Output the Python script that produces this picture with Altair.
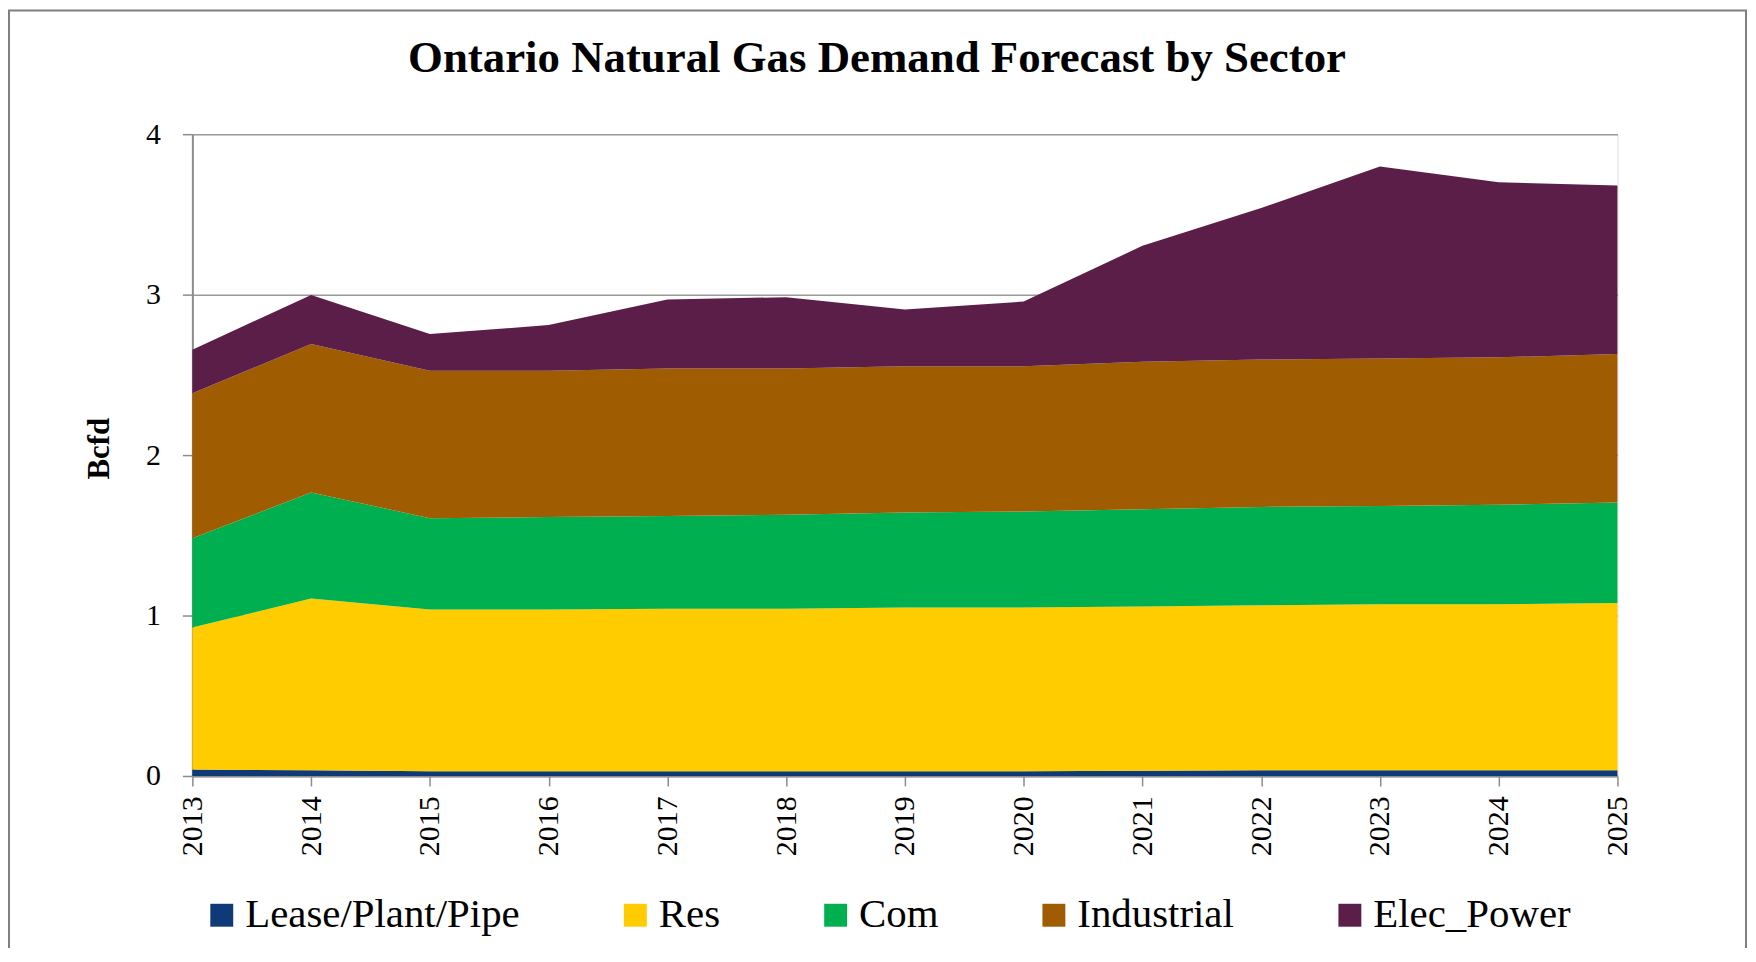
import altair as alt
import pandas as pd

years = list(range(2013, 2026))
series_names = ["Lease/Plant/Pipe", "Res", "Com", "Industrial", "Elec_Power"]
series_colors = ["#0E3A78", "#FFCC00", "#00B050", "#A05C00", "#5B1E49"]

lease = [0.04, 0.035, 0.03, 0.03, 0.03, 0.03, 0.03, 0.03, 0.032, 0.035, 0.035, 0.035, 0.035]
res = [0.885, 1.071, 1.007, 1.007, 1.013, 1.013, 1.02, 1.02, 1.025, 1.029, 1.036, 1.036, 1.043]
com = [0.557, 0.661, 0.570, 0.577, 0.578, 0.585, 0.592, 0.599, 0.606, 0.613, 0.612, 0.619, 0.626]
industrial = [0.904, 0.925, 0.918, 0.911, 0.918, 0.911, 0.911, 0.904, 0.918, 0.918, 0.919, 0.919, 0.926]
elec_power = [0.271, 0.306, 0.230, 0.285, 0.431, 0.445, 0.355, 0.404, 0.723, 0.945, 1.196, 1.091, 1.05]

y_ticks = [0, 1, 2, 3, 4]
title_text = ["Ontario Natural Gas Demand Forecast by Sector"]

rows = []
for idx, (name, vals) in enumerate(zip(series_names, [lease, res, com, industrial, elec_power])):
    for yr, v in zip(years, vals):
        rows.append({"Year": yr, "Sector": name, "Bcfd": v, "order": idx})
df = pd.DataFrame(rows)

FONT = "Liberation Serif"

areas = alt.Chart(df).mark_area(opacity=1).encode(
    x=alt.X("Year:Q",
            scale=alt.Scale(domain=[2013, 2025], nice=False, zero=False),
            axis=alt.Axis(values=years, format="d", labelAngle=270, title=None,
                          grid=False, tickSize=10, labelPadding=10,
                          labelFontSize=30, labelFont=FONT, labelColor="black",
                          domainColor="#8C8C8C", domainWidth=2,
                          tickColor="#8C8C8C", tickWidth=1.5)),
    y=alt.Y("Bcfd:Q", stack="zero",
            scale=alt.Scale(domain=[0, 4], nice=False),
            axis=alt.Axis(values=y_ticks, title="Bcfd", grid=True,
                          gridColor="#9A9A9A", gridWidth=1.5,
                          tickSize=10, labelPadding=22,
                          labelFontSize=30, labelFont=FONT, labelColor="black",
                          domainColor="#8C8C8C", domainWidth=2,
                          tickColor="#8C8C8C", tickWidth=1.5,
                          titleFont=FONT, titleFontSize=31, titleFontWeight="bold",
                          titleColor="black", titleAngle=270,
                          titleX=-93, titleY=315, titleAlign="center",
                          titleBaseline="middle")),
    color=alt.Color("Sector:N",
                    scale=alt.Scale(domain=series_names, range=series_colors),
                    legend=alt.Legend(title=None, orient="none", direction="horizontal",
                                      legendX=9, legendY=763, columns=5,
                                      columnPadding=95, symbolType="square",
                                      symbolSize=529, symbolStrokeWidth=0,
                                      symbolOpacity=1, labelOffset=3,
                                      labelFont=FONT, labelFontSize=41,
                                      labelColor="black", labelLimit=400)),
    order=alt.Order("order:Q", sort="ascending"),
)

title = alt.Chart(pd.DataFrame({"t": title_text})).mark_text(
    font=FONT, fontSize=45, fontWeight="bold", color="black",
    align="center", baseline="alphabetic"
).encode(
    text="t:N", x=alt.value(687), y=alt.value(-62),
)

border = alt.Chart(pd.DataFrame({"a": [0]})).mark_rect(
    filled=False, stroke="#7F7F7F", strokeWidth=2
).encode(
    x=alt.value(-184), x2=alt.value(1559),
    y=alt.value(-124), y2=alt.value(900),
)

chart = alt.layer(areas, title, border).properties(
    width=1430,
    height=644,
    autosize=alt.AutoSizeParams(type="none"),
    padding={"left": 185, "top": 125, "right": 131, "bottom": 171},
).configure_view(strokeWidth=0).configure(background="white")

chart.save("out.html", embed_options={"renderer": "svg", "actions": False})
